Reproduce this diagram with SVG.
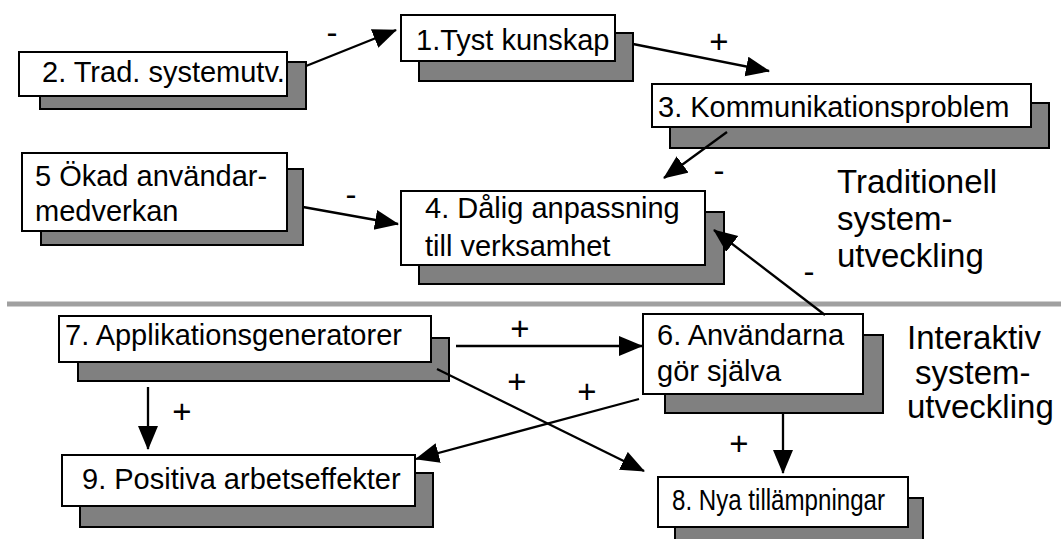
<svg xmlns="http://www.w3.org/2000/svg" width="1061" height="539" viewBox="0 0 1061 539">
  <style>
    .shadow { fill: #808080; stroke: #000; stroke-width: 2; }
    .box { fill: #fff; stroke: #000; stroke-width: 2; }
    .lbl { font-family: "Liberation Sans", Arial, sans-serif; font-size: 29px; fill: #000; }
    .sign { font-family: "Liberation Sans", Arial, sans-serif; font-size: 33px; fill: #000; text-anchor: middle; }
    .area { font-family: "Liberation Sans", Arial, sans-serif; font-size: 33px; fill: #000; }
    .link { stroke: #000; stroke-width: 2.3; fill: none; marker-end: url(#arrow); }
  </style>
  <defs>
    <marker id="arrow" markerUnits="userSpaceOnUse" markerWidth="26" markerHeight="22" refX="23" refY="10" orient="auto">
      <path d="M0,0 L24,10 L0,20 Z" fill="#000"/>
    </marker>
  </defs>

  <rect width="1061" height="539" fill="#fff"/>

  <!-- divider between the two development styles -->
  <line x1="7" y1="304" x2="1061" y2="304" stroke="#a0a0a0" stroke-width="5"/>

  <!-- area captions -->
  <g id="caption-traditional">
    <text class="area" x="837" y="193">Traditionell</text>
    <text class="area" x="837" y="230">system-</text>
    <text class="area" x="837" y="267">utveckling</text>
  </g>
  <g id="caption-interactive">
    <text class="area" x="907" y="349">Interaktiv</text>
    <text class="area" x="915" y="384">system-</text>
    <text class="area" x="907" y="418">utveckling</text>
  </g>

  <!-- nodes: shadow block, white card, label -->
  <g id="node-1">
    <rect class="shadow" x="419" y="33" width="214" height="48"/>
    <rect class="box" x="401" y="15" width="214" height="46"/>
    <text class="lbl" x="416" y="50">1.Tyst kunskap</text>
  </g>
  <g id="node-2">
    <rect class="shadow" x="40" y="62" width="266" height="47"/>
    <rect class="box" x="19" y="52" width="268" height="44"/>
    <text class="lbl" x="42" y="82">2. Trad. systemutv.</text>
  </g>
  <g id="node-3">
    <rect class="shadow" x="670" y="103" width="379" height="45"/>
    <rect class="box" x="652" y="84" width="379" height="43"/>
    <text class="lbl" x="658" y="117">3. Kommunikationsproblem</text>
  </g>
  <g id="node-5">
    <rect class="shadow" x="41" y="169" width="262" height="76"/>
    <rect class="box" x="22" y="153" width="265" height="78"/>
    <text class="lbl" x="35" y="186">5 Ökad användar-</text>
    <text class="lbl" x="35" y="221">medverkan</text>
  </g>
  <g id="node-4">
    <rect class="shadow" x="419" y="212" width="305" height="72"/>
    <rect class="box" x="401" y="191" width="304" height="74"/>
    <text class="lbl" x="425" y="218">4. Dålig anpassning</text>
    <text class="lbl" x="425" y="256">till verksamhet</text>
  </g>
  <g id="node-7">
    <rect class="shadow" x="78" y="338" width="371" height="43"/>
    <rect class="box" x="59" y="316" width="372" height="46"/>
    <text class="lbl" x="65" y="345">7. Applikationsgeneratorer</text>
  </g>
  <g id="node-6">
    <rect class="shadow" x="665" y="335" width="218" height="78"/>
    <rect class="box" x="643" y="314" width="220" height="80"/>
    <text class="lbl" x="657" y="345">6. Användarna</text>
    <text class="lbl" x="657" y="381">gör själva</text>
  </g>
  <g id="node-9">
    <rect class="shadow" x="80" y="473" width="353" height="54"/>
    <rect class="box" x="62" y="455" width="353" height="51"/>
    <text class="lbl" x="82" y="489">9. Positiva arbetseffekter</text>
  </g>
  <g id="node-8">
    <rect class="shadow" x="675" y="498" width="248" height="50"/>
    <rect class="box" x="658" y="477" width="250" height="50"/>
    <text class="lbl" x="672" y="510" textLength="213" lengthAdjust="spacingAndGlyphs">8. Nya tillämpningar</text>
  </g>

  <!-- influence links with their sign -->
  <g id="connectors">
    <line class="link" x1="306" y1="66" x2="396" y2="30"/>
    <line class="link" x1="633" y1="44" x2="769" y2="71"/>
    <line class="link" x1="727" y1="132" x2="664" y2="178"/>
    <line class="link" x1="303" y1="207" x2="398" y2="224"/>
    <line class="link" x1="825" y1="315" x2="714" y2="230"/>
    <line class="link" x1="456" y1="346" x2="642" y2="346"/>
    <line class="link" x1="437" y1="369" x2="644" y2="471"/>
    <line class="link" x1="639" y1="399" x2="416" y2="459"/>
    <line class="link" x1="148" y1="387" x2="148" y2="449"/>
    <line class="link" x1="783" y1="413" x2="783" y2="473"/>

    <text class="sign" x="332" y="44">-</text>
    <text class="sign" x="719" y="53">+</text>
    <text class="sign" x="719" y="182">-</text>
    <text class="sign" x="351" y="206">-</text>
    <text class="sign" x="809" y="283">-</text>
    <text class="sign" x="520" y="340">+</text>
    <text class="sign" x="517" y="393">+</text>
    <text class="sign" x="587" y="403">+</text>
    <text class="sign" x="182" y="423">+</text>
    <text class="sign" x="739" y="455">+</text>
  </g>
</svg>
